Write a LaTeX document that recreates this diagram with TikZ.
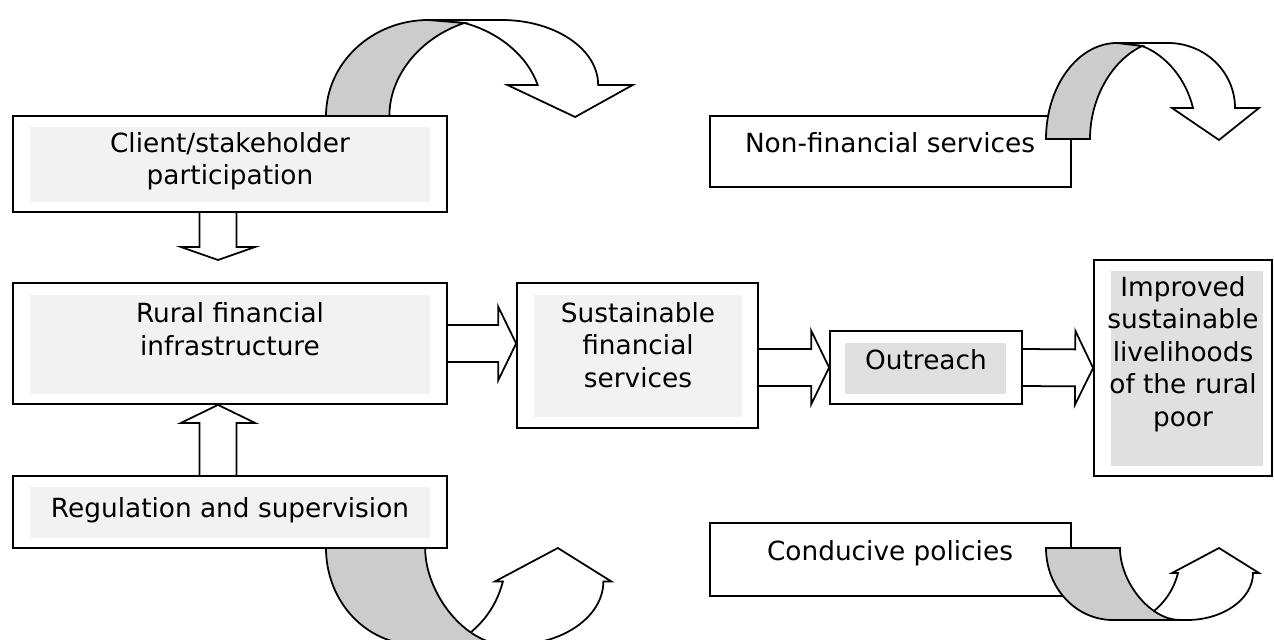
\documentclass[tikz,border=0pt]{standalone}
\usepackage{fontspec}
\setmainfont{DejaVu Sans}
\usetikzlibrary{calc, fit}
\colorlet{paleshade}{black!5}
\colorlet{midshade}{black!12}
\colorlet{curlshade}{black!20}
\tikzset{
  box/.style={draw, fill=white, inner sep=0pt},
  txt/.style={align=center, inner sep=0pt},
  curlfront/.style={draw, fill=white},
  curlback/.style={draw, fill=curlshade}
}
% hollow block arrow from #2 to #3, #1 = head length
\newcommand{\fatarrow}[3][0.36cm]{%
  \draw let \p1=(#2), \p2=(#3), \n1={atan2(\y2-\y1,\x2-\x1)}, \n2={veclen(\x2-\x1,\y2-\y1)} in
    [shift={(\p1)}, rotate=\n1]
    (0pt,-0.37cm) -- (\n2*1pt-#1,-0.37cm) -- (\n2*1pt-#1,-0.74cm) -- (\n2*1pt,0pt)
    -- (\n2*1pt-#1,0.74cm) -- (\n2*1pt-#1,0.37cm) -- (0pt,0.37cm);
}

\begin{document}
\begin{tikzpicture}[x=0.02cm, y=-0.02cm, line width=1pt, font=\fontsize{15}{18.5}\selectfont]
  \useasboundingbox (0,0) rectangle (1274,639);
  \clip (0,0) rectangle (1274,639);

  % left column
  \node[box, fit={(13,116) (447,212)}] (client) {};
  \fill[paleshade] (30,127) rectangle (430,202);
  \node[txt] (clienttxt) at (230,161) {Client/stakeholder\\participation};

  \node[box, fit={(13,283) (447,404)}] (rural) {};
  \fill[paleshade] (30,295) rectangle (430,394);
  \node[txt] (ruraltxt) at (230,329) {Rural financial\\infrastructure};

  \node[box, fit={(13,476) (447,548)}] (regulation) {};
  \fill[paleshade] (30,487) rectangle (430,538);
  \node[txt] (regulationtxt) at (230,510) {Regulation and supervision};

  % middle row
  \node[box, fit={(517,283) (758,428)}] (sfs) {};
  \fill[paleshade] (534,295) rectangle (742,417);
  \node[txt] (sfstxt) at (638,345) {Sustainable\\financial\\services};

  \node[box, fit={(830,331) (1022,404)}] (outreach) {};
  \fill[midshade] (845,343) rectangle (1006,394);
  \node[txt] (outreachtxt) at (926,360) {Outreach};

  \node[box, fit={(1094,260) (1272,476)}] (improved) {};
  \fill[midshade] (1111,271) rectangle (1263,466);
  \node[txt] (improvedtxt) at (1183,354) {Improved\\sustainable\\livelihoods\\of the rural\\poor};

  % side boxes
  \node[box, fit={(710,116) (1071,187)}] (nonfin) {};
  \node[txt] (nonfintxt) at (890,143) {Non-financial services};

  \node[box, fit={(710,523) (1071,596)}] (conducive) {};
  \node[txt] (conducivetxt) at (890,553) {Conducive policies};

  % block arrows
  \coordinate (stem) at (218,260);
  \fatarrow[0.26cm]{client.south -| stem}{stem}
  \fatarrow{regulation.north -| stem}{rural.south -| stem}
  \fatarrow{rural.east}{sfs.west |- rural.east}
  \fatarrow{sfs.east |- outreach.west}{outreach.west}
  \fatarrow{outreach.east}{improved.west}

  % curled arrows
  \begin{scope}[shift={(326,116)}, xscale=1.44]
    \draw[curlfront] (71,-96) -- (122,-96) .. controls (159,-96) and (189,-67) .. (189,-31)
      -- (213,-31) -- (173,1) -- (126,-31) -- (147,-31)
      .. controls (140,-60) and (120,-84) .. (96,-93) -- cycle;
    \draw[curlback] (0,0) .. controls (0,-53) and (32,-96) .. (71,-96) -- (96,-93)
      .. controls (65,-78) and (44,-40) .. (44,0) -- cycle;
  \end{scope}
  \begin{scope}[shift={(1046,139)}]
    \draw[curlfront] (71,-96) -- (122,-96) .. controls (159,-96) and (189,-67) .. (189,-31)
      -- (213,-31) -- (173,1) -- (126,-31) -- (147,-31)
      .. controls (140,-60) and (120,-84) .. (96,-93) -- cycle;
    \draw[curlback] (0,0) .. controls (0,-53) and (32,-96) .. (71,-96) -- (96,-93)
      .. controls (65,-78) and (44,-40) .. (44,0) -- cycle;
  \end{scope}
  \begin{scope}[shift={(326,548)}, scale=1.34]
    \draw[curlfront] (95,72) -- (141,72) .. controls (177,72) and (207,51) .. (207,25)
      -- (213,25) -- (173,0) -- (126,25) -- (132,25)
      .. controls (126,48) and (112,62) .. (95,72) -- cycle;
    \draw[curlback] (0,0) .. controls (0,40) and (30,72) .. (67,72) -- (134,72)
      .. controls (104,72) and (74,34) .. (74,0) -- cycle;
  \end{scope}
  \begin{scope}[shift={(1046,548)}]
    \draw[curlfront] (95,72) -- (141,72) .. controls (177,72) and (207,51) .. (207,25)
      -- (213,25) -- (173,0) -- (126,25) -- (132,25)
      .. controls (126,48) and (112,62) .. (95,72) -- cycle;
    \draw[curlback] (0,0) .. controls (0,40) and (30,72) .. (67,72) -- (134,72)
      .. controls (104,72) and (74,34) .. (74,0) -- cycle;
  \end{scope}
\end{tikzpicture}
\end{document}
